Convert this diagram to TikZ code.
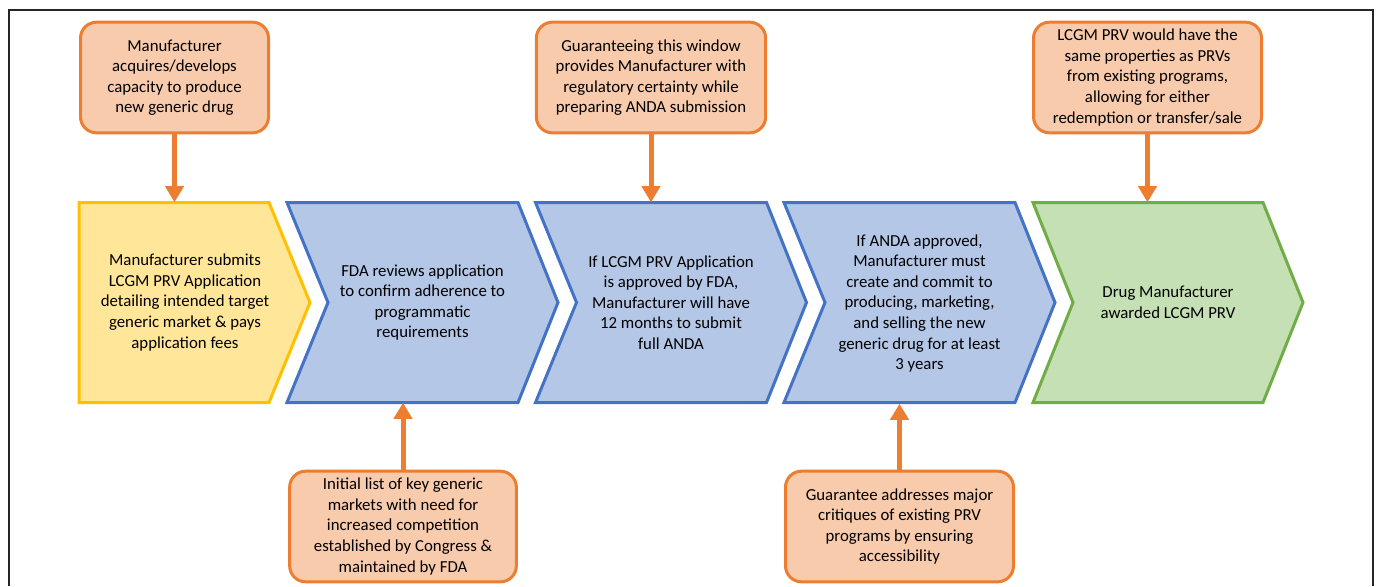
\documentclass[tikz,border=0pt]{standalone}
\usepackage{fontspec}
\setmainfont{Carlito}
\usepackage{tikz}
\usetikzlibrary{arrows.meta, positioning}
\definecolor{myorange}{RGB}{237, 125, 49}
\definecolor{mypeach}{RGB}{248, 203, 173}
\definecolor{myyellow}{RGB}{255, 192, 0}
\definecolor{mylightyellow}{RGB}{255, 230, 153}
\definecolor{myblue}{RGB}{68, 114, 196}
\definecolor{mylightblue}{RGB}{180, 199, 231}
\definecolor{mygreen}{RGB}{112, 173, 71}
\definecolor{mylightgreen}{RGB}{197, 224, 180}

\begin{document}
\begin{tikzpicture}[x=0.75pt, y=-0.75pt,
    every node/.style={font=\fontsize{12.6}{15.4}\selectfont},
    note/.style={rectangle, rounded corners=12pt, draw=myorange, fill=mypeach, line width=2.25pt, minimum height=83pt, align=center, inner sep=2pt},
    steptext/.style={rectangle, minimum height=150pt, align=center, inner sep=0pt},
    chevy/.style={draw=myyellow, fill=mylightyellow, line width=2.25pt},
    chevb/.style={draw=myblue, fill=mylightblue, line width=2.25pt},
    chevg/.style={draw=mygreen, fill=mylightgreen, line width=2.25pt},
    feed/.style={draw=myorange, line width=3.75pt, -{Triangle[width=13.5pt, length=12pt]}}]
    \useasboundingbox (0, 0) rectangle (1377, 586);
    % frame
    \draw[line width=1.5pt, black!85] (9, 586) -- (9, 10) -- (1373, 10) -- (1373, 586);

    % chevrons
    \draw[chevy] (79, 202.5) -- (269, 202.5) -- (310, 302.5) -- (269, 402.5) -- (79, 402.5) -- cycle;
    \draw[chevb] (287, 202.5) -- (518, 202.5) -- (558, 302.5) -- (518, 402.5) -- (287, 402.5) -- (328, 302.5) -- cycle;
    \draw[chevb] (535.5, 202.5) -- (766.5, 202.5) -- (806.5, 302.5) -- (766.5, 402.5) -- (535.5, 402.5) -- (576.5, 302.5) -- cycle;
    \draw[chevb] (784, 202.5) -- (1015, 202.5) -- (1055, 302.5) -- (1015, 402.5) -- (784, 402.5) -- (825, 302.5) -- cycle;
    \draw[chevg] (1033, 202.5) -- (1263, 202.5) -- (1303, 302.5) -- (1263, 402.5) -- (1033, 402.5) -- (1073, 302.5) -- cycle;
    \node[steptext] (ch1) at (185, 302.5) {Manufacturer submits\\LCGM PRV Application\\detailing intended target\\generic market \& pays\\application fees};
    \node[steptext] (ch2) at (422.5, 302.5) {FDA reviews application\\to confirm adherence to\\programmatic\\requirements};
    \node[steptext] (ch3) at (671, 302.5) {If LCGM PRV Application\\is approved by FDA,\\Manufacturer will have\\12 months to submit\\full ANDA};
    \node[steptext] (ch4) at (919.5, 303.5) {If ANDA approved,\\Manufacturer must\\create and commit to\\producing, marketing,\\and selling the new\\generic drug for at least\\3 years};
    \node[steptext] (ch5) at (1168, 302.5) {Drug Manufacturer\\awarded LCGM PRV};

    % notes above
    \node[note, minimum width=141pt] (n1) at (174.5, 77.5) {Manufacturer\\acquires/develops\\capacity to produce\\new generic drug};
    \node[note, minimum width=172pt] (n2) at (651, 77.5) {Guaranteeing this window\\provides Manufacturer with\\regulatory certainty while\\preparing ANDA submission};
    \node[note, minimum width=171pt] (n3) at (1147.5, 77.5) {LCGM PRV would have the\\same properties as PRVs\\from existing programs,\\allowing for either\\redemption or transfer/sale};
    \draw[feed] (n1.south) -- (n1.south |- ch1.north);
    \draw[feed] (n2.south) -- (n2.south |- ch3.north);
    \draw[feed] (n3.south) -- (n3.south |- ch5.north);

    % notes below
    \node[note, minimum width=170pt] (n4) at (403, 526.5) {Initial list of key generic\\markets with need for\\increased competition\\established by Congress \&\\maintained by FDA};
    \node[note, minimum width=171pt] (n5) at (899.5, 526.5) {Guarantee addresses major\\critiques of existing PRV\\programs by ensuring\\accessibility};
    \draw[feed] (n4.north) -- (n4.north |- ch2.south);
    \draw[feed] (n5.north) -- (n5.north |- ch4.south);
\end{tikzpicture}
\end{document}
